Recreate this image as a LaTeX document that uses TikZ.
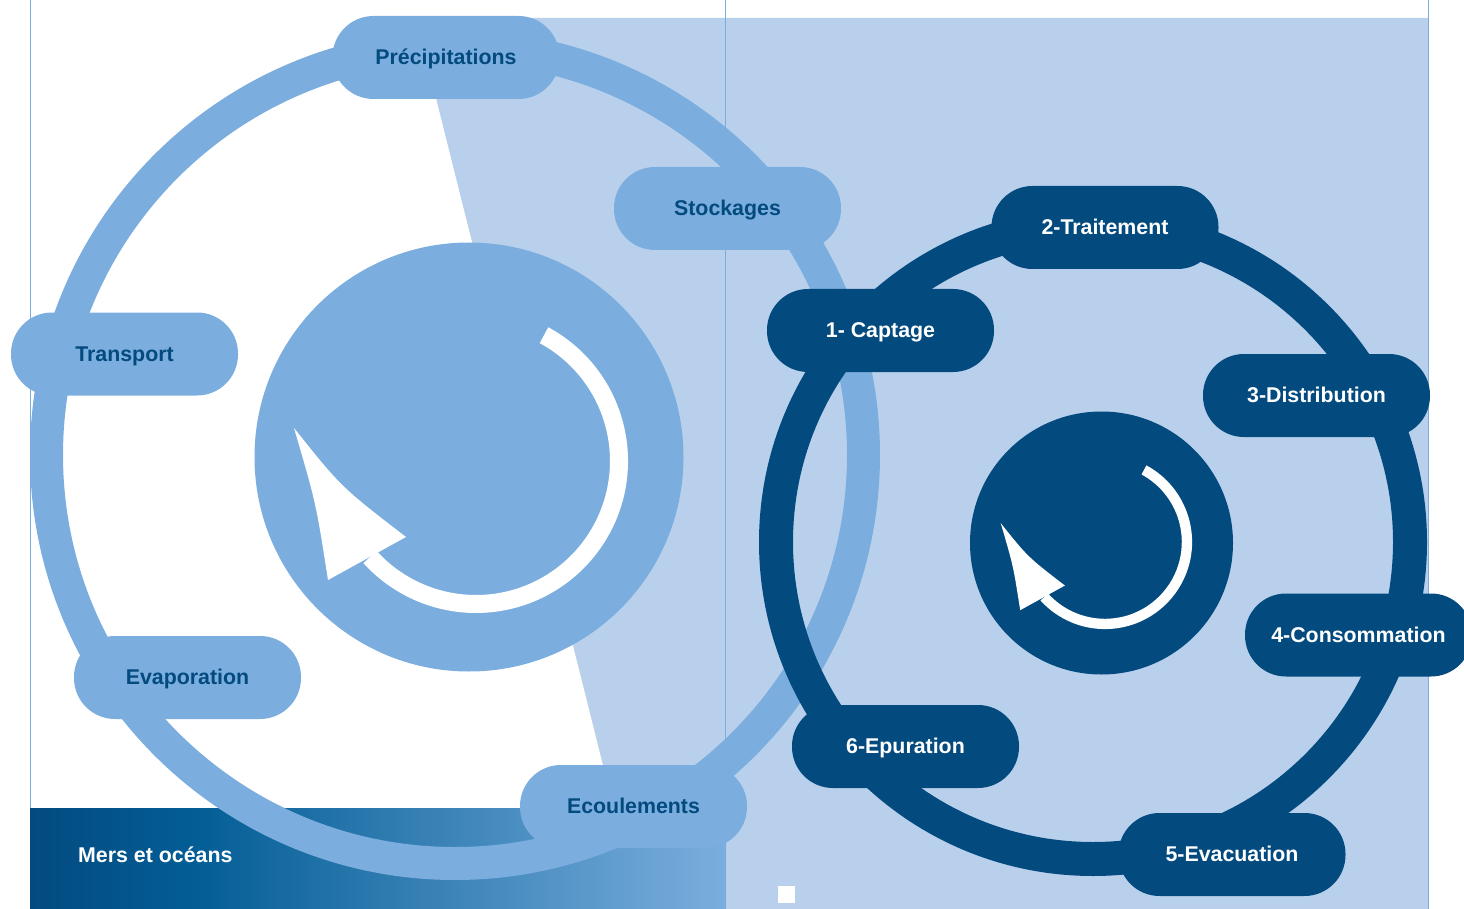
\documentclass[tikz,border=0pt]{standalone}
\usepackage{fontspec}
\setmainfont{Liberation Sans}
\definecolor{bglight}{HTML}{B9D0EC}
\definecolor{ringlight}{HTML}{7BAEDE}
\definecolor{darkblue}{HTML}{034A7F}
\definecolor{seaA}{HTML}{034A80}
\definecolor{seaB}{HTML}{035E96}
\definecolor{seaC}{HTML}{7BAEDE}
\pgfdeclarehorizontalshading{seaband}{100bp}{color(0bp)=(seaA); color(25bp)=(seaA); color(37bp)=(seaB); color(75bp)=(seaC); color(100bp)=(seaC)}
\tikzset{
  lbl/.style={font=\fontsize{21.35pt}{24pt}\selectfont\bfseries, text height=15pt, text depth=1pt, inner sep=0pt},
  pill/.style={lbl, rounded corners=41pt, minimum width=227pt, minimum height=83pt},
  lightpill/.style={pill, fill=ringlight, text=darkblue},
  darkpill/.style={pill, fill=darkblue, text=white},
  frameline/.style={draw=ringlight, line width=0.8pt},
  cyclearrow/.pic={
    \fill[white] (-61.6:152) arc[start angle=-61.6, end angle=137.8, radius=152]
      -- (137.8:134) arc[start angle=137.8, end angle=-61.6, radius=134] -- cycle;
    \fill[white] (-182,-33) .. controls (-135,26) .. (-70,76) -- (-148,119)
      .. controls (-160,42) .. (-182,-33) -- cycle;
  }
}
\begin{document}
\begin{tikzpicture}[x=1pt, y=-1pt]
\useasboundingbox (0,0) rectangle (1464,909);
\clip (0,0) rectangle (1464,909);
\fill[white] (0,0) rectangle (1464,909);
% light background
\fill[bglight] (416,18) -- (1428.5,18) -- (1428.5,909) -- (639,909) -- cycle;
% frame lines
\path[frameline] (30,0) -- (30,909);
\path[frameline] (725.5,0) -- (725.5,909);
\path[frameline] (1428.5,0) -- (1428.5,909);
% sea band
\shade[shading=seaband] (30,808.5) rectangle (726,909);
% natural cycle
\coordinate (nc) at (455,455);
\coordinate (ncin) at (469,457);
\draw[ringlight, line width=33pt] (nc) circle[radius=408.5];
\fill[ringlight] (ncin) circle[radius=214.5];
\pic at (476,461) {cyclearrow};
\node[lightpill] (prec) at (446,57.5) {Précipitations};
\node[lightpill] (stock) at (727.5,208.5) {Stockages};
\node[lightpill] (trans) at (124.5,354) {Transport};
\node[lightpill] (evap) at (187.5,677.5) {Evaporation};
\node[lightpill] (ecoul) at (633.5,806.5) {Ecoulements};
% domestic cycle
\coordinate (dc) at (1093,542);
\coordinate (dcin) at (1101.5,543);
\draw[darkblue, line width=34pt] (dc) circle[radius=317];
\fill[darkblue] (dcin) circle[radius=131.5];
\pic[scale=0.573] at (1105,542) {cyclearrow};
\node[darkpill] (capt) at (880.5,330.5) {1- Captage};
\node[darkpill] (trait) at (1105,227.5) {2-Traitement};
\node[darkpill] (distr) at (1316.5,395.5) {3-Distribution};
\node[darkpill] (conso) at (1358.5,635) {4-Consommation};
\node[darkpill] (evac) at (1232,854.5) {5-Evacuation};
\node[darkpill] (epur) at (905.5,746.5) {6-Epuration};
% small square
\fill[white] (778,886) rectangle (795,903);
\node[lbl, text=white, anchor=base west] (mers) at (78,862) {Mers et océans};
\end{tikzpicture}
\end{document}
